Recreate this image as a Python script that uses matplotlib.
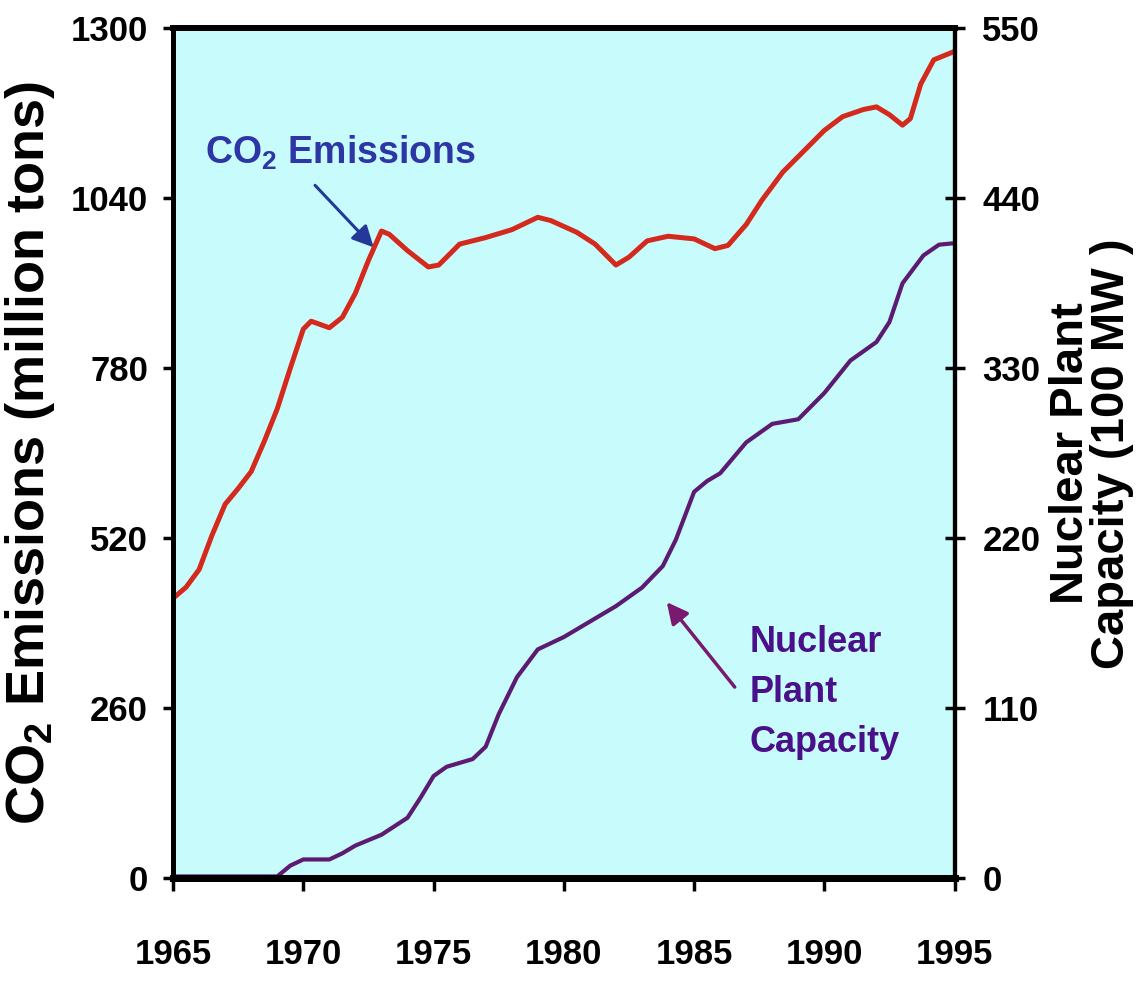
import matplotlib
matplotlib.use('Agg')
import matplotlib.pyplot as plt

# CO2 emissions, million tons (left axis)
co2_years = [1965.0, 1965.5, 1966.0, 1966.5, 1967.0, 1967.5, 1968.0, 1968.5, 1969.0, 1969.5,
             1970.0, 1970.3, 1971.0, 1971.5, 1972.0, 1972.5, 1973.0, 1973.3, 1974.0, 1974.8,
             1975.2, 1976.0, 1977.0, 1978.0, 1979.0, 1979.5, 1980.5, 1981.2, 1982.0, 1982.5,
             1983.2, 1984.0, 1985.0, 1985.8, 1986.3, 1987.0, 1987.6, 1988.4, 1989.2, 1990.0,
             1990.7, 1991.5, 1992.0, 1992.5, 1993.0, 1993.3, 1993.7, 1994.2, 1995.0]
co2_vals = [428, 445, 472, 525, 572, 596, 622, 668, 718, 780,
            840, 852, 842, 858, 895, 945, 990, 985, 960, 935,
            938, 970, 980, 992, 1011, 1006, 988, 970, 938, 950,
            975, 982, 978, 963, 968, 1000, 1037, 1080, 1112, 1144,
            1165, 1176, 1180, 1168, 1152, 1162, 1215, 1252, 1265]

# nuclear plant capacity, 100 MW (right axis)
nuc_years = [1965.0, 1969.0, 1969.5, 1970.0, 1971.0, 1971.5, 1972.0, 1973.0, 1974.0, 1974.5,
             1975.0, 1975.5, 1976.5, 1977.0, 1977.5, 1978.2, 1979.0, 1980.0, 1981.0, 1982.0,
             1983.0, 1983.8, 1984.3, 1985.0, 1985.5, 1986.0, 1987.0, 1988.0, 1989.0, 1990.0,
             1991.0, 1992.0, 1992.5, 1993.0, 1993.8, 1994.4, 1995.0]
nuc_vals = [1, 1, 8, 12, 12, 16, 21, 28, 39, 52,
            66, 72, 77, 85, 106, 130, 148, 156, 166, 176,
            188, 202, 219, 250, 257, 262, 282, 294, 297, 314,
            335, 347, 360, 385, 403, 410, 411]

x_ticks = [1965, 1970, 1975, 1980, 1985, 1990, 1995]
left_ticks = [0, 260, 520, 780, 1040, 1300]
right_ticks = [0, 110, 220, 330, 440, 550]

plt.rcParams['font.family'] = ['Liberation Sans', 'DejaVu Sans']
plt.rcParams['font.weight'] = 'bold'
plt.rcParams['axes.labelweight'] = 'bold'
# subscript 2 drawn in the same bold sans
plt.rcParams['mathtext.fontset'] = 'custom'
plt.rcParams['mathtext.rm'] = 'Liberation Sans:bold'
plt.rcParams['mathtext.it'] = 'Liberation Sans:bold'
plt.rcParams['mathtext.bf'] = 'Liberation Sans:bold'
plt.rcParams['mathtext.default'] = 'rm'

fig = plt.figure(figsize=(11.46, 9.81), dpi=100)
ax = fig.add_axes([0.151, 0.105, 0.682, 0.866])
ax.set_facecolor('#c8fcfc')
ax.plot(co2_years, co2_vals, color='#d42a1e', lw=3.6, solid_joinstyle='round')
ax.set_xlim(1965, 1995)
ax.set_ylim(0, 1300)
ax.set_xticks(x_ticks)
ax.set_yticks(left_ticks)
ax.tick_params(axis='y', direction='out', length=7, width=2.5, labelsize=25, pad=11)
ax.tick_params(axis='x', direction='out', length=9, width=2.5, labelsize=25, pad=34)

ax2 = ax.twinx()
ax2.plot(nuc_years, nuc_vals, color='#5c1a72', lw=3.0, solid_joinstyle='round')
ax2.set_ylim(0, 550)
ax2.set_yticks(right_ticks)
ax2.tick_params(axis='y', direction='inout', length=14, width=2.5, labelsize=25, pad=13)

# spines, heavier at left/bottom like the original
for a in (ax, ax2):
    a.spines['left'].set_linewidth(3.6)
    a.spines['top'].set_linewidth(4.2)
    a.spines['right'].set_linewidth(3.0)
    a.spines['bottom'].set_linewidth(5.0)

# axis titles
ax.set_ylabel('CO$_2$ Emissions (million tons)', fontsize=39, va='center',
              fontweight='bold')
ax.yaxis.set_label_coords(-0.183, 0.5)
ax2.set_ylabel('Nuclear Plant\nCapacity (100 MW )', fontsize=34, rotation=90,
               va='center', ha='center', linespacing=0.92, fontweight='bold')
ax2.yaxis.set_label_coords(1.175, 0.5)

# callouts
ax.text(1966.23, 1110, 'CO$_2$ Emissions', color='#2e35a5', fontsize=27,
        ha='left', va='center')
ax.annotate('', xy=(1972.7, 965), xytext=(1970.45, 1060),
            arrowprops=dict(arrowstyle='-|>', color='#24389a', lw=2.2,
                            mutation_scale=32, shrinkA=0, shrinkB=0))

ax2.text(1987.13, 120, 'Nuclear\nPlant\nCapacity', color='#4a1089', fontsize=26,
         ha='left', va='center', linespacing=1.55)
ax2.annotate('', xy=(1983.95, 178.6), xytext=(1986.56, 123.6),
             arrowprops=dict(arrowstyle='-|>', color='#7a1a6e', lw=2.5,
                             mutation_scale=32, shrinkA=0, shrinkB=0))

plt.savefig('out.png', dpi=100)
